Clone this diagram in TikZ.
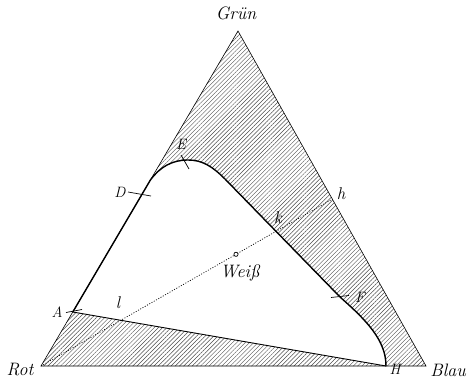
\documentclass[tikz,border=0pt]{standalone}
\usetikzlibrary{patterns.meta}
\begin{document}
\begin{tikzpicture}[x=1pt,y=-1pt,
  edge/.style={line width=0.6pt, line join=miter},
  bound/.style={line width=1.4pt, line join=round, line cap=round},
  mid/.style={line width=0.9pt},
  tickln/.style={line width=0.7pt},
  dotln/.style={line width=0.7pt, dash pattern=on 1pt off 1.6pt},
  word/.style={font=\fontsize{18}{21}\selectfont\itshape, inner sep=0pt},
  lett/.style={font=\fontsize{15}{17}\selectfont\itshape, inner sep=0pt},
  smal/.style={font=\fontsize{17}{19}\selectfont\itshape, inner sep=0pt},
  hatch/.style={pattern={Lines[angle=45,distance=3pt,line width=0.45pt]}, pattern color=black!70}]
\useasboundingbox (0,0) rectangle (474,380);
\coordinate (R) at (41,366);
\coordinate (G) at (238,31);
\coordinate (B) at (426,366);
\coordinate (A) at (72.8,312);
\coordinate (D) at (143.3,192);
\coordinate (D2) at (150.4,180);
\coordinate (T) at (188,160);
\coordinate (S) at (225,179);
\coordinate (F) at (340,297);
\coordinate (H) at (386,366);
\coordinate (h) at (332.5,199);
% hatched triangle
\fill[hatch] (R) -- (G) -- (B) -- cycle;
% white region
\fill[white] (A) -- (D2) .. controls (160,167) and (172,160) .. (T)
  .. controls (202,160) and (212,166) .. (S) -- (F)
  .. controls (366,320) and (386,340) .. (H) -- cycle;
% triangle
\draw[edge] (R) -- (G) -- (B) -- cycle;
% boundary
\draw[bound] (A) -- (D2) .. controls (160,167) and (172,160) .. (T)
  .. controls (202,160) and (212,166) .. (S) -- (F)
  .. controls (366,320) and (386,340) .. (H);
\draw[mid] (A) -- (H);
% dotted line
\draw[dotln] (R) -- (h);
\node[circle, draw, fill=white, inner sep=0pt, minimum size=4.2pt, line width=0.7pt] (W) at (236,254.3) {};
% ticks
\coordinate (a1) at (66,312.5); \coordinate (a2) at (82,309.5);
\draw[tickln] (a1) -- (a2);
\coordinate (d1) at (128,192); \coordinate (d2) at (151,196);
\draw[tickln] (d1) -- (d2);
\coordinate (e1) at (181,155); \coordinate (e2) at (189,169);
\draw[tickln] (e1) -- (e2);
\coordinate (f1) at (331,297.5); \coordinate (f2) at (349,295.5);
\draw[tickln] (f1) -- (f2);
% labels
\node[word] (lG) at (236,13) {Grün};
\node[word] (lR) at (20,370) {Rot};
\node[word, anchor=east] (lB) at (466,370) {Blau};
\node[word] (lW) at (240,273) {Weiß};
\node[lett] (lA) at (57,312) {A};
\node[lett] (lD) at (120,192) {D};
\node[lett] (lE) at (181,144) {E};
\node[lett] (lF) at (360,297) {F};
\node[lett] (lH) at (395,369) {H};
\node[smal] (lh) at (341,194) {h};
\node[smal] (lk) at (278,218) {k};
\node[smal] (ll) at (118,303) {l};
\end{tikzpicture}
\end{document}
